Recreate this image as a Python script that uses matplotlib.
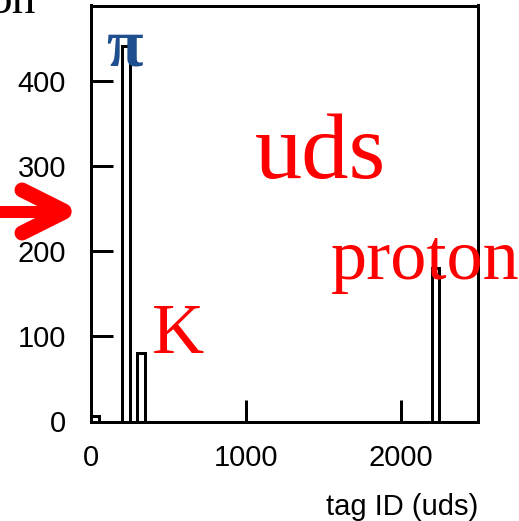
import matplotlib
matplotlib.use("Agg")
import matplotlib.pyplot as plt
from matplotlib.lines import Line2D
from matplotlib.patches import Polygon

# Histogram of tag IDs for uds events (PDG codes: 211 = pi, 321 = K, 2212 = proton)
bin_left = [0, 200, 300, 2200]
counts = [6, 441, 81, 180]
bin_width = 50
x_ticks = [0, 1000, 2000]
y_ticks = [0, 100, 200, 300, 400]

W, H = 519, 521
fig = plt.figure(figsize=(W / 100, H / 100), dpi=100)
ax = fig.add_axes([91 / W, 1 - 421.5 / H, (478 - 91) / W, (421.5 - 5.5) / H])

lw_px = 3
lw = lw_px * 72 / 100
ax.bar(bin_left, counts, width=bin_width, align="edge", fill=False,
       edgecolor="black", linewidth=lw)

ax.set_xlim(0, 2500)
ax.set_ylim(0, 489)
ax.set_xticks(x_ticks)
ax.set_yticks(y_ticks)
for s in ax.spines.values():
    s.set_linewidth(lw)
ax.tick_params(axis="both", direction="in", length=16, width=lw,
               labelsize=21, top=False, right=False)
ax.tick_params(axis="y", pad=18)
ax.tick_params(axis="x", pad=16)
for lab in ax.get_xticklabels() + ax.get_yticklabels():
    lab.set_fontfamily("Liberation Sans")
ax.set_xlabel("tag ID (uds)", loc="right", fontsize=21,
              fontfamily="Liberation Sans", labelpad=15)

serif = "Liberation Serif"
ax.text(1061, 286, "uds", color="red", fontsize=68, family=serif,
        ha="left", va="baseline")
ax.text(1547, 168, "proton", color="red", fontsize=52, family=serif,
        ha="left", va="baseline", clip_on=False)
ax.text(393, 80, "K", color="red", fontsize=52, family=serif,
        ha="left", va="baseline")
ax.text(100, 418, "\u03c0", color="#1f4f8f", fontsize=48, family=serif,
        weight="bold", ha="left", va="baseline")


def px(x, y):
    return x / W, 1 - y / H


# Red arrow pointing at the axis
arrow_red = "#ff0000"
for (x0, y0), (x1, y1), w in [((-10, 212), (58, 212), 12),
                              ((22, 190), (64, 211), 15),
                              ((22, 233), (64, 212), 15)]:
    a, b = px(x0, y0)
    c, d = px(x1, y1)
    fig.add_artist(Line2D([a, c], [b, d], transform=fig.transFigure,
                          color=arrow_red, linewidth=w * 0.72,
                          solid_capstyle="round"))
fig.add_artist(Polygon([px(40, 200), px(70, 212), px(40, 224)], closed=True,
                       transform=fig.transFigure, color=arrow_red))

fig.text(*px(36, 13), "on", fontsize=34, family=serif, color="black",
         ha="right", va="baseline")

fig.savefig("out.png", dpi=100)
